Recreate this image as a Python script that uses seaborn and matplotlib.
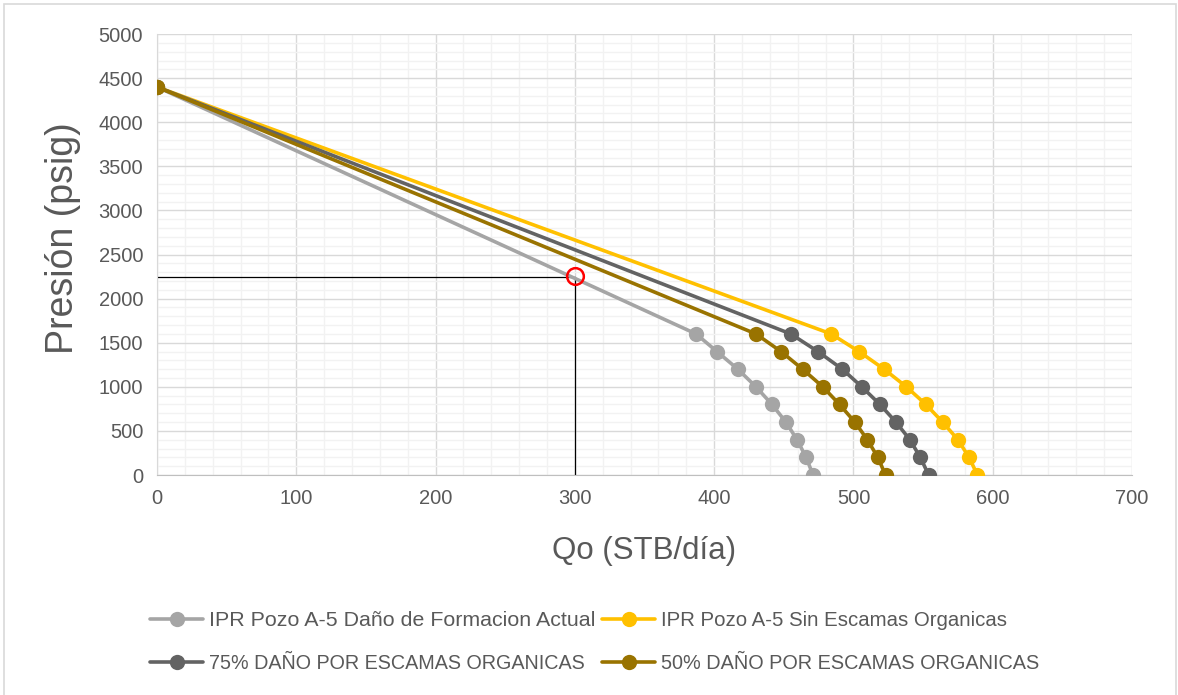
import pandas as pd
import matplotlib.pyplot as plt
import seaborn as sns
from matplotlib.ticker import MultipleLocator

# presiones (psig) comunes a todas las curvas
presion = [4400, 1600, 1400, 1200, 1000, 800, 600, 400, 200, 0]

# caudales (STB/dia)
qo_actual = [0, 387, 402, 417, 430, 441.5, 451.5, 459.5, 466, 471]
qo_sin_escamas = [0, 484, 504, 522, 538, 552, 564, 575, 583, 589]
qo_75 = [0, 455, 474.5, 492, 506, 519, 530.5, 540.5, 548, 554]
qo_50 = [0, 430, 448, 463.5, 478, 490, 501, 510, 517.5, 523]

series = ["IPR Pozo A-5 Daño de Formacion Actual",
          "IPR Pozo A-5 Sin Escamas Organicas",
          "75% DAÑO POR ESCAMAS ORGANICAS",
          "50% DAÑO POR ESCAMAS ORGANICAS"]
colores = ["#A5A5A5", "#FFC000", "#636363", "#997300"]

# punto de operacion
q_op = 300
p_op = 2250

filas = []
for nombre, qs in zip(series, [qo_actual, qo_sin_escamas, qo_75, qo_50]):
    for q, p in zip(qs, presion):
        filas.append({"Qo": q, "P": p, "serie": nombre})
df = pd.DataFrame(filas)

sns.set_style("white")
plt.rcParams['font.family'] = ['Liberation Sans', 'DejaVu Sans']

fig = plt.figure(figsize=(11.78, 6.95), dpi=100)
ax = fig.add_axes([0.1333, 0.3165, 0.8277, 0.6345])

# marco del grafico
fig.patches.append(plt.Rectangle((0.003, -0.01), 0.995, 1.004, transform=fig.transFigure,
                                 fill=False, edgecolor="#D9D9D9", linewidth=1.2))

ax.xaxis.set_major_locator(MultipleLocator(100))
ax.xaxis.set_minor_locator(MultipleLocator(20))
ax.yaxis.set_major_locator(MultipleLocator(500))
ax.yaxis.set_minor_locator(MultipleLocator(100))
ax.grid(which="major", color="#D9D9D9", linewidth=1.0)
ax.grid(which="minor", color="#F2F2F2", linewidth=1.0)
ax.set_axisbelow(True)

sns.lineplot(data=df, x="Qo", y="P", hue="serie", hue_order=series, palette=colores,
             marker="o", markersize=11, markeredgewidth=0, linewidth=2.6,
             sort=False, estimator=None, ax=ax, zorder=3, legend=True)

ax.plot([0, q_op], [p_op, p_op], color="black", linewidth=0.9, zorder=2)
ax.plot([q_op, q_op], [0, p_op], color="black", linewidth=0.9, zorder=2)
ax.plot([q_op], [p_op + 10], marker="o", markersize=12, markerfacecolor="none",
        markeredgecolor="red", markeredgewidth=1.8, zorder=5)

ax.set_xlim(0, 700)
ax.set_ylim(0, 5000)
ax.set_xlabel("Qo (STB/día)", fontsize=22.5, color="#595959")
ax.set_ylabel("Presión (psig)", fontsize=27, color="#595959")
ax.xaxis.set_label_coords(0.4995, -0.139)
ax.yaxis.set_label_coords(-0.078, 0.537)
ax.tick_params(axis="both", which="major", labelsize=14.5, labelcolor="#595959",
               length=5, color="#BFBFBF", width=1, pad=5)
ax.tick_params(axis="both", which="minor", length=0)
for s in ["top", "right"]:
    ax.spines[s].set_visible(False)
ax.spines["left"].set_color("#D9D9D9")
ax.spines["bottom"].set_color("#BFBFBF")

h, l = ax.get_legend_handles_labels()
ax.get_legend().remove()
orden = [0, 2, 1, 3]
leg = fig.legend([h[i] for i in orden], [l[i] for i in orden], ncol=2,
                 loc="upper left", bbox_to_anchor=(150 / 1178, 1 - 611 / 695),
                 bbox_transform=fig.transFigure, frameon=False,
                 handlelength=2.5, columnspacing=0.28, labelspacing=1.14,
                 handletextpad=0.28, borderpad=0, borderaxespad=0,
                 prop={"family": ["Liberation Sans Narrow", "Liberation Sans", "DejaVu Sans"],
                       "size": 15.4})
# el texto en mayusculas del original es mas estrecho
for t, tam in zip(leg.get_texts(), [15.4, 14.2, 14.7, 14.3]):
    t.set_color("#595959")
    t.set_fontsize(tam)

fig.savefig("out.png", dpi=100)
